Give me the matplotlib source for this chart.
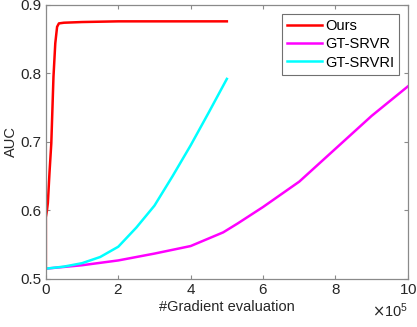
import numpy as np
import matplotlib.pyplot as plt
from matplotlib.ticker import ScalarFormatter

plt.rcParams['font.family'] = ['Liberation Sans', 'DejaVu Sans']

# AUC vs number of gradient evaluations
ours_x = [0, 0, 3000, 5500, 10000, 15000, 21000, 26000, 31000, 36000, 50000,
          100000, 200000, 300000, 400000, 500000]
ours_y = [0.515, 0.59, 0.600, 0.611, 0.655, 0.698, 0.795, 0.844, 0.868, 0.873,
          0.874, 0.875, 0.876, 0.876, 0.876, 0.876]

srvr_x = [0, 100000, 200000, 300000, 400000, 490000, 530000, 600000, 700000,
          800000, 900000, 1000000]
srvr_y = [0.515, 0.520, 0.527, 0.537, 0.548, 0.568, 0.581, 0.605, 0.642,
          0.690, 0.738, 0.781]

srvri_x = [0, 50000, 100000, 150000, 200000, 250000, 300000, 350000, 400000,
           450000, 500000]
srvri_y = [0.515, 0.518, 0.523, 0.532, 0.547, 0.575, 0.607, 0.650, 0.695,
           0.743, 0.792]

fig = plt.figure(figsize=(4.17, 3.27), dpi=100)
ax = fig.add_axes([0.110, 0.147, 0.868, 0.838])

ax.plot(ours_x, ours_y, color='#ff0000', lw=1.8, label='Ours')
ax.plot(srvr_x, srvr_y, color='#ff00ff', lw=1.8, label='GT-SRVR')
ax.plot(srvri_x, srvri_y, color='#00ffff', lw=1.8, label='GT-SRVRI')

ax.set_xlim(0, 1000000)
ax.set_ylim(0.5, 0.9)
ax.set_xticks(np.arange(0, 1000001, 200000))
ax.set_yticks([0.5, 0.6, 0.7, 0.8, 0.9])

fmt = ScalarFormatter(useMathText=True)
fmt.set_powerlimits((5, 5))
ax.xaxis.set_major_formatter(fmt)
ax.xaxis.get_offset_text().set_fontsize(10.5)
ax.xaxis.get_offset_text().set_color('#262626')

for s in ax.spines.values():
    s.set_color('#8a8a8a')
    s.set_linewidth(0.9)
ax.tick_params(direction='in', top=True, right=True, length=3, width=0.8,
               color='#8a8a8a', labelcolor='#262626', labelsize=11, pad=3)

ax.set_xlabel('#Gradient evaluation', fontsize=10.5, color='#262626', labelpad=2)
ax.set_ylabel('AUC', fontsize=10.5, color='#262626', labelpad=2)

leg = ax.legend(loc='upper right', fontsize=10.5, fancybox=False,
                edgecolor='#707070', framealpha=1, handlelength=2.4,
                handletextpad=0.2, borderpad=0.35, labelspacing=0.3,
                borderaxespad=0.6)
leg.get_frame().set_linewidth(0.8)

fig.savefig('out.png', dpi=100)
